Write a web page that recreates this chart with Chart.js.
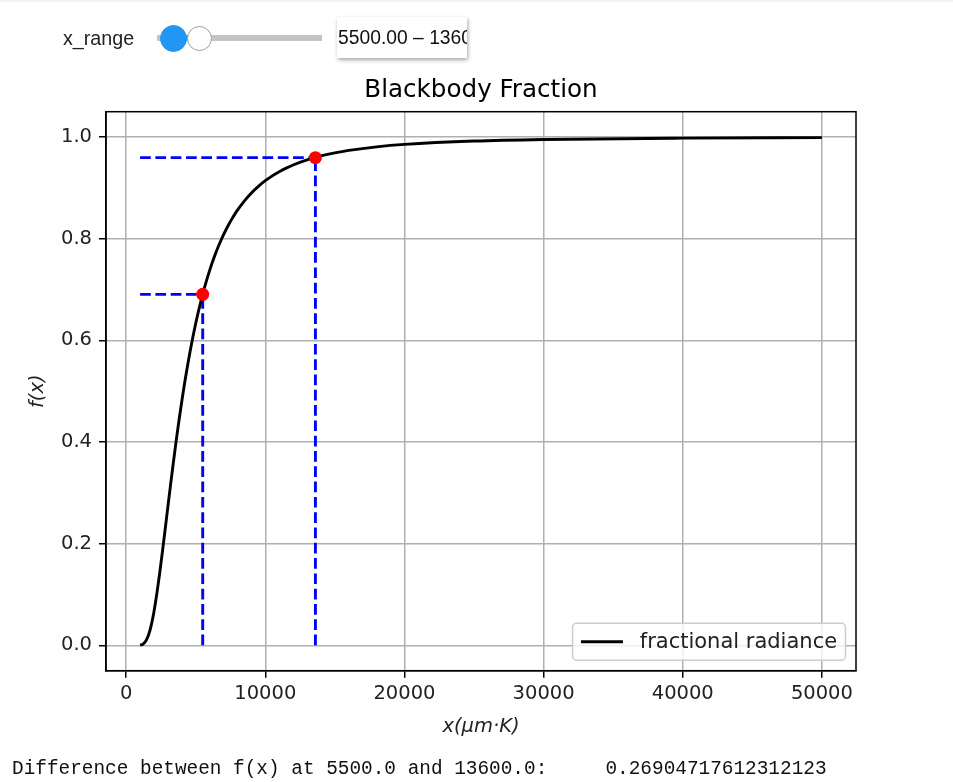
<!DOCTYPE html>
<html>
<head>
<meta charset="utf-8">
<title>Blackbody Fraction</title>
<script src="https://cdn.jsdelivr.net/npm/chart.js@4.4.1/dist/chart.umd.min.js"></script>
<style>
  body { margin: 0; width: 953px; height: 782px; overflow: hidden; position: relative; background: #fff;
         font-family: "Liberation Sans", Arial, sans-serif; }
  #topline { position: absolute; left: 0; top: 0; width: 953px; height: 2px; background: #f2f2f2; z-index: 2; }
  #chart { position: absolute; left: 0; top: 0; }
  .ctl { position: absolute; z-index: 3; }
  #rangeLabel { left: 63px; top: 26px; font-size: 19.7px; line-height: 24px; color: #222; }
  #track { left: 157px; top: 35px; width: 165px; height: 6px; background: #c4c4c4; }
  #fill { top: 35px; height: 6px; background: #2196f3; }
  .knob { border-radius: 50%; box-sizing: border-box; }
  #knobLo { width: 27px; height: 27px; background: #2196f3; border: 1px solid #2196f3; top: 25px; }
  #knobHi { width: 25px; height: 25px; background: #fff; border: 1px solid #9e9e9e; top: 26px; }
  #rangeText { left: 337px; top: 17px; width: 130px; height: 41px; overflow: hidden; white-space: nowrap;
               background: #fff; box-shadow: 1px 2px 4px rgba(0,0,0,0.35); font-size: 19.3px; line-height: 41px;
               color: #111; padding-left: 1px; box-sizing: border-box; }
  #readout { position: absolute; left: 12px; top: 757px; margin: 0; font-family: "Liberation Mono", monospace;
             font-size: 19.4px; line-height: 24px; color: #111; white-space: pre; }
</style>
</head>
<body>
<div id="topline"></div>
<canvas id="chart" width="953" height="782"></canvas>
<div class="ctl" id="rangeLabel">x_range</div>
<div class="ctl" id="track"></div>
<div class="ctl" id="fill"></div>
<div class="ctl knob" id="knobLo"></div>
<div class="ctl knob" id="knobHi"></div>
<div class="ctl" id="rangeText"></div>
<pre id="readout"></pre>
<script>
// axis ticks
const xTicks = [0, 10000, 20000, 30000, 40000, 50000];
const yTicks = [0.0, 0.2, 0.4, 0.6, 0.8, 1.0];

// fractional blackbody radiance f(x) against x = lambda*T
const lambdaT = [1000, 1200, 1400, 1600, 1800, 2000, 2200, 2400, 2600, 2800,
                 3000, 3200, 3400, 3600, 3800, 4000, 4200, 4400, 4600, 4800,
                 5000, 5200, 5400, 5600, 5800, 6000, 6200, 6400, 6600, 6800,
                 7000, 7200, 7400, 7600, 7800, 8000, 8500, 9000, 9500, 10000,
                 10500, 11000, 11500, 12000, 13000, 14000, 15000, 16000, 18000, 20000,
                 25000, 30000, 40000, 50000];
const fraction = [0.00032, 0.00213, 0.00779, 0.01972, 0.03934, 0.06673, 0.10089, 0.14026, 0.18312, 0.22790,
                  0.27323, 0.31810, 0.36174, 0.40361, 0.44338, 0.48088, 0.51601, 0.54880, 0.57928, 0.60756,
                  0.63375, 0.65795, 0.68036, 0.70105, 0.72016, 0.73782, 0.75414, 0.76923, 0.78320, 0.79613,
                  0.80811, 0.81922, 0.82953, 0.83910, 0.84801, 0.85629, 0.87461, 0.89003, 0.90309, 0.91420,
                  0.92371, 0.93189, 0.93896, 0.94510, 0.95514, 0.96290, 0.96898, 0.97381, 0.98086, 0.98560,
                  0.99222, 0.99534, 0.99797, 0.99895];

// selected range and its two evaluated points
const markX = [5500, 13600];
const markF = [0.69056, 0.95961];
const fracDiff = 0.26904717612312123;
const sliderMin = 0, sliderMax = 50000;

const xLimits = [-1450, 52450];
const yLimits = [-0.05, 1.05];

const titleText = 'Blackbody Fraction';
const curveLabel = 'fractional radiance';

// --- widget row ---
function knobPos(v) { return 155.5 + (v - sliderMin) / (sliderMax - sliderMin) * 163.6; }
const lo = knobPos(markX[0]), hi = knobPos(markX[1]);
const knobLo = document.getElementById('knobLo'), knobHi = document.getElementById('knobHi');
knobLo.style.left = (lo - 13.5) + 'px';
knobHi.style.left = (hi - 12.5) + 'px';
const fillEl = document.getElementById('fill');
fillEl.style.left = lo + 'px';
fillEl.style.width = (hi - lo) + 'px';
document.getElementById('rangeText').textContent = markX[0].toFixed(2) + ' \u2013 ' + markX[1].toFixed(2);
document.getElementById('readout').textContent =
  'Difference between f(x) at ' + markX[0].toFixed(1) + ' and ' + markX[1].toFixed(1) + ':     ' + String(fracDiff);

// --- chart ---
const curve = lambdaT.map((x, i) => ({ x: x, y: fraction[i] }));
const guideStyle = { showLine: true, pointRadius: 0, borderColor: '#0000ff', borderWidth: 2.9,
                     borderDash: [10.7, 4.6], fill: false, order: 2 };
const guides = [];
markX.forEach((x, i) => {
  guides.push(Object.assign({ data: [{ x: lambdaT[0], y: markF[i] }, { x: x, y: markF[i] }] }, guideStyle));
  guides.push(Object.assign({ data: [{ x: x, y: 0 }, { x: x, y: markF[i] }] }, guideStyle));
});

const tickFont = { family: 'DejaVu Sans', size: 19.5 };
const labelFont = { family: 'DejaVu Sans', size: 19.5, style: 'italic' };

const framePlugin = {
  id: 'frame',
  afterDraw(chart) {
    const ctx = chart.ctx, a = chart.chartArea;
    ctx.save();
    // spines
    ctx.strokeStyle = '#000';
    ctx.lineWidth = 1.5;
    ctx.strokeRect(a.left, a.top, a.right - a.left, a.bottom - a.top);

    // title
    ctx.fillStyle = '#000';
    ctx.font = '24.6px "DejaVu Sans"';
    ctx.textAlign = 'center';
    ctx.textBaseline = 'alphabetic';
    ctx.fillText(titleText, (a.left + a.right) / 2, a.top - 15);

    // legend, lower right
    const fs = 21, pad = 0.4 * fs, handle = 2 * fs, gap = 0.8 * fs, edge = 0.5 * fs;
    ctx.font = fs + 'px "DejaVu Sans"';
    const tw = ctx.measureText(curveLabel).width;
    const w = pad * 2 + handle + gap + tw, h = pad * 2 + fs * 0.96;
    const bx = a.right - edge - w, by = a.bottom - edge - h;
    ctx.beginPath();
    if (ctx.roundRect) ctx.roundRect(bx, by, w, h, 4); else ctx.rect(bx, by, w, h);
    ctx.fillStyle = 'rgba(255,255,255,0.8)';
    ctx.fill();
    ctx.strokeStyle = '#cccccc';
    ctx.lineWidth = 1.5;
    ctx.stroke();
    const cy = by + h / 2;
    ctx.beginPath();
    ctx.moveTo(bx + pad, cy);
    ctx.lineTo(bx + pad + handle, cy);
    ctx.strokeStyle = '#000';
    ctx.lineWidth = 2.9;
    ctx.stroke();
    ctx.fillStyle = '#222';
    ctx.textAlign = 'left';
    ctx.textBaseline = 'middle';
    ctx.fillText(curveLabel, bx + pad + handle + gap, cy + 1);
    ctx.restore();
  }
};

new Chart(document.getElementById('chart'), {
  type: 'scatter',
  data: {
    datasets: [
      { label: 'marks', data: markX.map((x, i) => ({ x: x, y: markF[i] })), pointRadius: 6.5,
        pointHoverRadius: 6.5, backgroundColor: '#ff0000', borderColor: '#ff0000', borderWidth: 0,
        showLine: false, order: 0 },
      { label: curveLabel, data: curve, showLine: true, pointRadius: 0, borderColor: '#000000',
        borderWidth: 2.9, cubicInterpolationMode: 'monotone', fill: false, order: 1 }
    ].concat(guides)
  },
  options: {
    responsive: false,
    animation: false,
    devicePixelRatio: 1,
    layout: { padding: { left: 0, top: 111.7, right: 97, bottom: 782 - 670.7 - 80 } },
    plugins: { legend: { display: false }, tooltip: { enabled: false }, title: { display: false } },
    scales: {
      x: {
        type: 'linear', min: xLimits[0], max: xLimits[1],
        afterBuildTicks: s => { s.ticks = xTicks.map(v => ({ value: v })); },
        afterFit: s => { s.height = 80; },
        ticks: { color: '#222', font: tickFont, padding: 5, maxRotation: 0, autoSkip: false,
                 callback: v => String(v) },
        grid: { color: '#b0b0b0', lineWidth: 1.5, tickLength: 7, tickColor: '#000', tickWidth: 1.5 },
        border: { display: true, color: '#000', width: 1.5 },
        title: { display: true, text: 'x(\u03bcm\u00b7K)', color: '#222', font: labelFont,
                 padding: { top: 0, bottom: 12 } }
      },
      y: {
        type: 'linear', min: yLimits[0], max: yLimits[1],
        afterBuildTicks: s => { s.ticks = yTicks.map(v => ({ value: v })); },
        afterFit: s => { s.width = 106; },
        ticks: { color: '#222', font: tickFont, padding: 7, autoSkip: false,
                 callback: v => v.toFixed(1) },
        grid: { color: '#b0b0b0', lineWidth: 1.5, tickLength: 7, tickColor: '#000', tickWidth: 1.5 },
        border: { display: true, color: '#000', width: 1.5 },
        title: { display: true, text: 'f(x)', color: '#222', font: labelFont,
                 padding: { top: 26, bottom: 0 } }
      }
    }
  },
  plugins: [framePlugin]
});
</script>
</body>
</html>
